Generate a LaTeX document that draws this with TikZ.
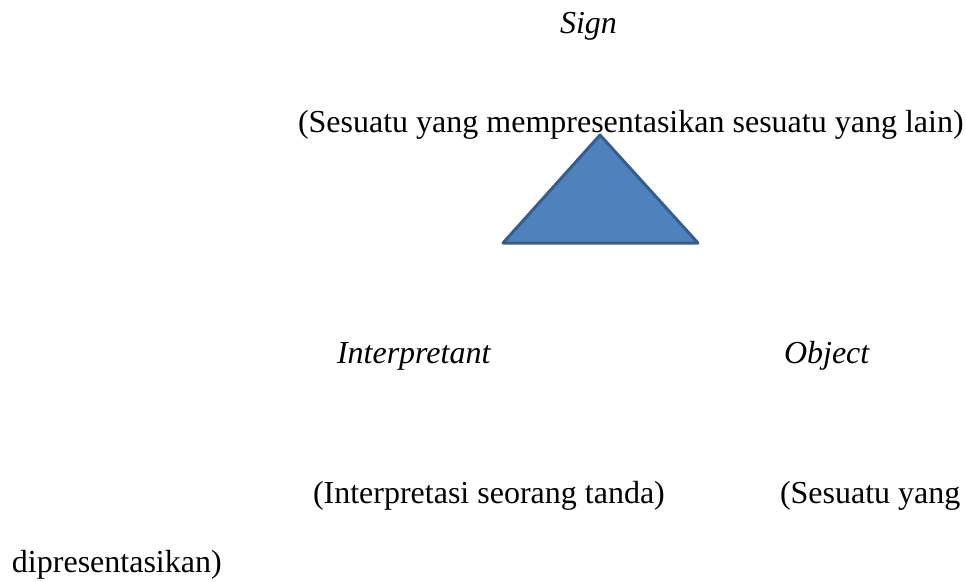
\documentclass[tikz,border=0pt]{standalone}
\usepackage{fontspec}
\setmainfont{Liberation Serif}
\definecolor{trifill}{HTML}{4F81BD}
\definecolor{triline}{HTML}{385D8A}
\begin{document}
\begin{tikzpicture}[x=1pt,y=-1pt,
  lbl/.style={anchor=base west,inner sep=0pt,outer sep=0pt,font=\fontsize{32}{38}\selectfont},
  ilbl/.style={lbl,font=\fontsize{32}{38}\selectfont\itshape}]
\useasboundingbox (0,0) rectangle (966,581);
\node[ilbl] (sign) at (560,33) {Sign};
\node[lbl] (signdesc) at (298,132) {(Sesuatu yang mempresentasikan sesuatu yang lain)};
\coordinate (apex) at (600,135);
\coordinate (bl) at (503,243);
\coordinate (br) at (698,243);
\draw[fill=trifill,draw=triline,line width=3pt,line join=round] (apex) -- (br) -- (bl) -- cycle;
\node[ilbl] (interp) at (337,363) {Interpretant};
\node[ilbl] (object) at (784,363) {Object};
\node[lbl] (interpdesc) at (313,503) {(Interpretasi seorang tanda)};
\node[lbl] (objdesc1) at (780,503) {(Sesuatu yang};
\node[lbl] (objdesc2) at (12,572) {dipresentasikan)};
\end{tikzpicture}
\end{document}
